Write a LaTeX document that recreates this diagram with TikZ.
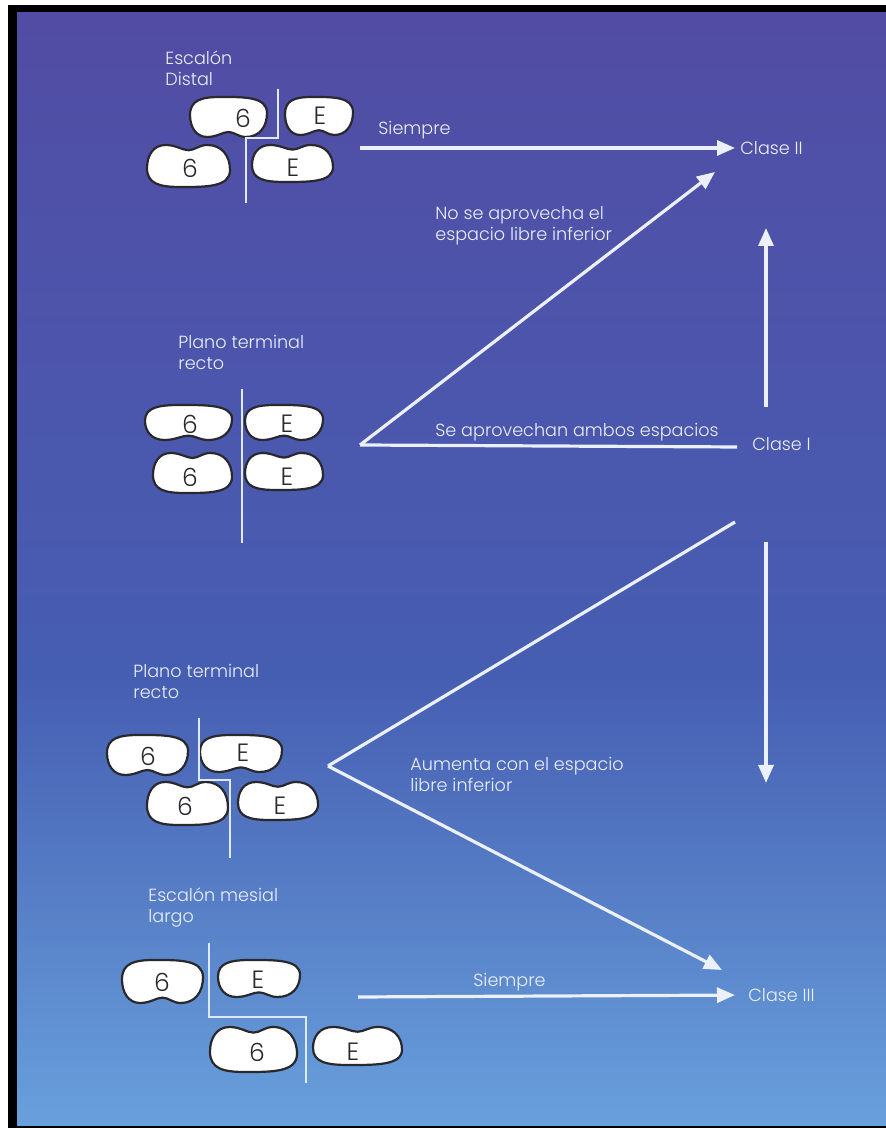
\documentclass[tikz,border=0pt]{standalone}
\usepackage{fontspec}
\setmainfont{Poppins}[UprightFont=* Light]
\usetikzlibrary{arrows.meta}
\definecolor{fondoA}{RGB}{82,76,164}
\definecolor{fondoB}{RGB}{70,94,178}
\definecolor{fondoC}{RGB}{104,160,220}
\definecolor{texto}{RGB}{236,240,250}
\definecolor{linea}{RGB}{222,234,250}
\definecolor{borde}{RGB}{40,40,45}
\newcommand{\formamuela}{(-1,0.1) .. controls (-1,0.85) and (-0.7,1) .. (-0.2,1) .. controls (0.4,1) and (1,1.02) .. (1,0.2) .. controls (1,-0.5) and (0.8,-1) .. (0.45,-1) .. controls (0.25,-1) and (0.15,-0.75) .. (0,-0.75) .. controls (-0.15,-0.75) and (-0.3,-1) .. (-0.55,-1) .. controls (-0.85,-1) and (-1,-0.5) .. (-1,0.1) -- cycle}
\tikzset{
  muela/.style={fill=white, draw=borde, line width=1.1pt},
  muela sup/.pic={\path[muela] \formamuela;},
  muela inf/.pic={\path[muela,yscale=-1] \formamuela;},
  etiqueta/.style={text=texto, font=\fontsize{8.8}{10.5}\selectfont, align=left, anchor=west, inner sep=0pt},
  numero/.style={text=borde, font=\fontsize{12.5}{14}\selectfont, inner sep=0pt},
  flecha/.style={draw=texto, line width=1.6pt, -{Triangle[length=9pt,width=7.5pt]}},
  recta/.style={draw=texto, line width=1.6pt},
  plano/.style={draw=linea, line width=1pt},
}

\begin{document}
\begin{tikzpicture}[x=0.5pt,y=0.5pt]
  \useasboundingbox[fill=white] (0,0) rectangle (886,1128);
  \fill[black] (8,0) rectangle (886,1123);
  \shade[top color=fondoA, bottom color=fondoB] (17,450) rectangle (886,1115);
  \shade[top color=fondoB, bottom color=fondoC] (17,2) rectangle (886,450.5);

  % Escalon distal
  \node[etiqueta] (lblDistal) at (165,1060) {Escalón\\Distal};
  \pic[xscale=38.5,yscale=20] at (228.5,1011) {muela sup};
  \pic[xscale=34,yscale=19] at (319,1012) {muela sup};
  \pic[xscale=41.5,yscale=21] at (188.5,962) {muela inf};
  \pic[xscale=40.5,yscale=18.5] at (292.5,964.5) {muela inf};
  \node[numero] (d6a) at (243,1010) {6};
  \node[numero] (dEa) at (320,1012) {E};
  \node[numero] (d6b) at (190,960) {6};
  \node[numero] (dEb) at (293,960) {E};
  \draw[plano] (278,1039) -- (278,990) -- (246,990) -- (246,925);

  % Plano terminal recto
  \node[etiqueta] (lblRecto) at (178,776) {Plano terminal\\recto};
  \pic[xscale=43.5,yscale=17.5] at (188.5,705.5) {muela sup};
  \pic[xscale=39,yscale=17.5] at (284,705.5) {muela sup};
  \pic[xscale=39.5,yscale=20] at (192.5,655) {muela inf};
  \pic[xscale=39,yscale=18.5] at (284,656.5) {muela inf};
  \node[numero] (d6c) at (190,704) {6};
  \node[numero] (dEc) at (287,704) {E};
  \node[numero] (d6d) at (190,651) {6};
  \node[numero] (dEd) at (287,651) {E};
  \draw[plano] (242,739) -- (242,585);

  % Plano terminal recto con escalon mesial
  \node[etiqueta] (lblRectoM) at (133,447) {Plano terminal\\recto};
  \pic[xscale=40.5,yscale=20] at (147.5,373) {muela sup};
  \pic[xscale=41,yscale=18.5] at (241,374.5) {muela sup};
  \pic[xscale=40.5,yscale=21.5] at (187.5,324.5) {muela inf};
  \pic[xscale=40,yscale=19] at (278,327) {muela inf};
  \node[numero] (d6e) at (148,372) {6};
  \node[numero] (dEe) at (243,375) {E};
  \node[numero] (d6f) at (185,322) {6};
  \node[numero] (dEf) at (280,322) {E};
  \draw[plano] (199,410) -- (199,348) -- (230,348) -- (230,270);

  % Escalon mesial largo
  \node[etiqueta] (lblMesial) at (148,220) {Escalón mesial\\largo};
  \pic[xscale=40.5,yscale=21.5] at (162.5,146.5) {muela sup};
  \pic[xscale=41,yscale=18.5] at (259,149.5) {muela sup};
  \pic[xscale=43.5,yscale=22.5] at (253.5,78.5) {muela inf};
  \pic[xscale=44.5,yscale=19] at (357.5,82) {muela inf};
  \node[numero] (d6g) at (162,146) {6};
  \node[numero] (dEg) at (258,148) {E};
  \node[numero] (d6h) at (257,76) {6};
  \node[numero] (dEh) at (353,76) {E};
  \draw[plano] (209,185) -- (209,111) -- (306,111) -- (306,45);

  % clases
  \node[etiqueta] (cII) at (740,980) {Clase II};
  \node[etiqueta] (cI) at (752,684) {Clase I};
  \node[etiqueta] (cIII) at (748,133) {Clase III};

  \coordinate (s1) at (360,980);
  \coordinate (ap1) at (360,683);
  \coordinate (tipII) at (715,956);
  \coordinate (finI) at (737,681);
  \coordinate (upB) at (766,721);
  \coordinate (upT) at (766,900);
  \coordinate (dnT) at (766,586);
  \coordinate (dnB) at (766,345);
  \coordinate (ap2) at (328,362);
  \coordinate (finAu) at (735,606);
  \coordinate (tipIII) at (722,158);
  \coordinate (s2) at (358,131);

  \draw[flecha, shorten >=2.5pt] (s1) -- (cII.west);
  \draw[flecha] (ap1) -- (tipII);
  \draw[recta] (ap1) -- (finI);
  \draw[flecha] (upB) -- (upT);
  \draw[flecha] (dnT) -- (dnB);
  \draw[recta] (finAu) -- (ap2);
  \draw[flecha] (ap2) -- (tipIII);
  \draw[flecha, shorten >=6.5pt] (s2) -- (cIII.west);

  \node[etiqueta] (txtSiempreA) at (378,998) {Siempre};
  \node[etiqueta] (txtNo) at (435,902) {No se aprovecha el\\espacio libre inferior};
  \node[etiqueta] (txtAmbos) at (435,696) {Se aprovechan ambos espacios};
  \node[etiqueta] (txtAumenta) at (410,354) {Aumenta con el espacio\\libre inferior};
  \node[etiqueta] (txtSiempreB) at (473,146) {Siempre};
\end{tikzpicture}
\end{document}
